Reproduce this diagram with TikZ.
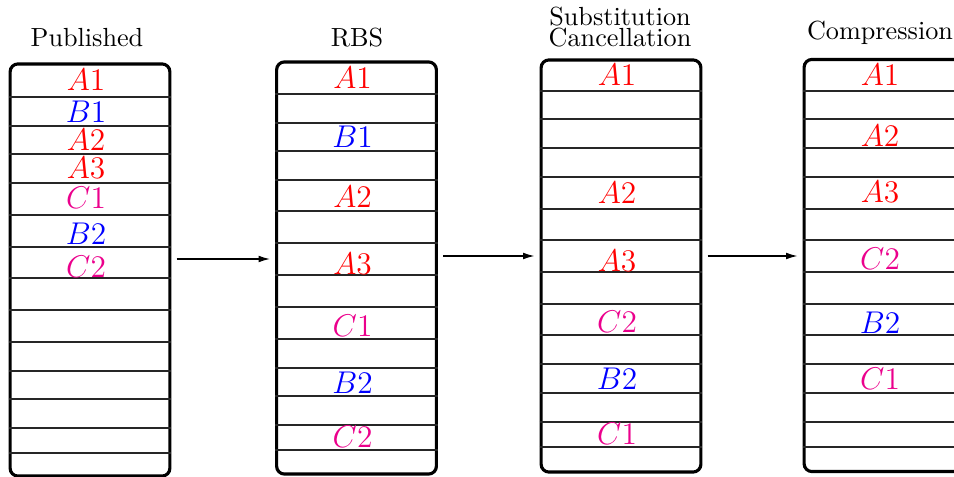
\documentclass[tikz,border=0pt]{standalone}
\usetikzlibrary{arrows.meta,positioning}
\definecolor{pinkish}{RGB}{235,0,140}
\tikzset{
    x=0.3817pt, y=-0.3817pt, % one unit per pixel, y runs downwards
    >={Latex[length=4.5pt,width=2.6pt]}, % small filled heads
    stack/.style={draw, very thick, rounded corners=3pt,
        minimum width=61pt, minimum height=157.3pt, inner sep=0pt}, % one buffer
    slot/.style={thin, black!85}, % separator between two entries
    title/.style={anchor=base, inner sep=0pt}, % heading over a buffer
    item/.style={font=\large, xshift=-1.5pt}, % entry in a buffer
}

\begin{document}
\begin{tikzpicture}
  \useasboundingbox (0,0) rectangle (954,476);

  % buffers
  \node[stack] (pub)  at (90,270)    {};
  \node[stack] (rbs)  at (356.5,268) {};
  \node[stack] (sub)  at (621,266)   {};
  \node[stack] (comp) at (884,265.5) {};

  % separators
  \foreach \y in {97,126,154,183,215,247,278,310,342,371,399,428,453}
    \draw[slot] (pub.west |- 0,\y) -- (pub.east |- 0,\y);
  \foreach \y in {94,123,151,180,211,243,275,307,339,368,396,425,450}
    \draw[slot] (rbs.west |- 0,\y) -- (rbs.east |- 0,\y);
  \foreach \y in {91,119,148,177,209,240,272,304,335,364,393,422,447} {
    \draw[slot] (sub.west |- 0,\y) -- (sub.east |- 0,\y);
    \draw[slot] (comp.west |- 0,\y) -- (comp.east |- 0,\y);
  }

  % headings
  \node[title] (t_pub)  at (87,46)  {Published};
  \node[title] (t_rbs)  at (357,46) {RBS};
  \node[title] (t_sub)  at (620,26) {Substitution};
  \node[title] (t_can)  at (620,46) {Cancellation};
  \node[title] (t_comp) at (880,39) {Compression};

  % Published
  \node[item, red]     (p_a1) at (90,80)  {$A1$};
  \node[item, blue]    (p_b1) at (90,112) {$B1$};
  \node[item, red]     (p_a2) at (90,140) {$A2$};
  \node[item, red]     (p_a3) at (90,168) {$A3$};
  \node[item, pinkish] (p_c1) at (90,198) {$C1$};
  \node[item, blue]    (p_b2) at (90,234) {$B2$};
  \node[item, pinkish] (p_c2) at (90,267) {$C2$};

  % RBS
  \node[item, red]     (r_a1) at (356.5,78)  {$A1$};
  \node[item, blue]    (r_b1) at (356.5,137) {$B1$};
  \node[item, red]     (r_a2) at (356.5,197) {$A2$};
  \node[item, red]     (r_a3) at (356.5,264) {$A3$};
  \node[item, pinkish] (r_c1) at (356.5,326) {$C1$};
  \node[item, blue]    (r_b2) at (356.5,383) {$B2$};
  \node[item, pinkish] (r_c2) at (356.5,437) {$C2$};

  % Substitution / Cancellation
  \node[item, red]     (s_a1) at (621,75)  {$A1$};
  \node[item, red]     (s_a2) at (621,193) {$A2$};
  \node[item, red]     (s_a3) at (621,261) {$A3$};
  \node[item, pinkish] (s_c2) at (621,322) {$C2$};
  \node[item, blue]    (s_b2) at (621,379) {$B2$};
  \node[item, pinkish] (s_c1) at (621,434) {$C1$};

  % Compression
  \node[item, red]     (c_a1) at (884,75)  {$A1$};
  \node[item, red]     (c_a2) at (884,136) {$A2$};
  \node[item, red]     (c_a3) at (884,192) {$A3$};
  \node[item, pinkish] (c_c2) at (884,259) {$C2$};
  \node[item, blue]    (c_b2) at (884,323) {$B2$};
  \node[item, pinkish] (c_c1) at (884,379) {$C1$};

  \path[->, semithick, shorten <=2pt, shorten >=1.8pt]
    (pub.east |- 0,259) edge (rbs.west |- 0,259)
    (rbs.east |- 0,256) edge (sub.west |- 0,256)
    (sub.east |- 0,256) edge (comp.west |- 0,256);
\end{tikzpicture}
\end{document}
